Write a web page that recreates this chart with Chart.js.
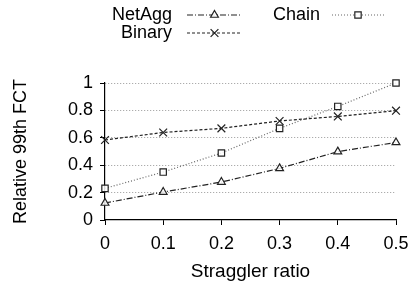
<!DOCTYPE html>
<html><head><meta charset="utf-8">
<script src="https://cdn.jsdelivr.net/npm/chart.js@4/dist/chart.umd.min.js"></script>
<style>html,body{margin:0;padding:0;background:#fff}#wrap{width:420px;height:286px}</style>
</head><body><div id="wrap"><canvas id="c" width="420" height="286"></canvas></div>
<script>
const xValues = [0, 0.1, 0.2, 0.3, 0.4, 0.5];
const netAgg = [0.124, 0.204, 0.277, 0.377, 0.499, 0.566];
const binary = [0.584, 0.639, 0.669, 0.723, 0.756, 0.798];
const chain  = [0.231, 0.350, 0.489, 0.669, 0.829, 1.0];
const yTicks = [0, 0.2, 0.4, 0.6, 0.8, 1];
const xTickLabels = ['0', '0.1', '0.2', '0.3', '0.4', '0.5'];
const seriesNames = ['NetAgg', 'Binary', 'Chain'];

const FONT = '"Liberation Sans", Arial, sans-serif';
const FS = 18;
const pts = arr => arr.map((v, i) => ({x: xValues[i], y: v}));

const styles = [
  {color: '#222', dash: [6, 2, 1, 2], point: 'triangle', pr: 4.5},
  {color: '#222', dash: [3, 2], point: 'crossRot', pr: 5.5},
  {color: '#666', dash: [1, 2], point: 'rect', pr: 4.5}
];
const seriesData = [netAgg, binary, chain];

const datasets = seriesData.map((d, i) => ({
  label: seriesNames[i],
  data: pts(d),
  borderColor: styles[i].color,
  borderWidth: 1.2,
  borderDash: styles[i].dash,
  pointStyle: styles[i].point,
  pointRadius: styles[i].pr,
  pointBorderColor: '#222',
  pointBackgroundColor: 'rgba(255,255,255,0.85)',
  pointBorderWidth: 1.2,
  clip: false,
  tension: 0
}));

const legendPlugin = {
  id: 'customLegend',
  afterDraw(chart) {
    const ctx = chart.ctx;
    ctx.save();
    ctx.font = FS + 'px ' + FONT;
    ctx.textAlign = 'right';
    ctx.textBaseline = 'middle';
    const items = [
      {i: 0, tx: 172, x0: 187, x1: 242, y: 15},
      {i: 1, tx: 172, x0: 187, x1: 242, y: 33},
      {i: 2, tx: 320, x0: 332, x1: 384, y: 15}
    ];
    items.forEach(it => {
      const s = styles[it.i];
      ctx.fillStyle = '#000';
      ctx.fillText(seriesNames[it.i], it.tx, it.y);
      ctx.strokeStyle = s.color;
      ctx.lineWidth = 1.2;
      ctx.setLineDash(s.dash);
      ctx.beginPath();
      ctx.moveTo(it.x0, it.y); ctx.lineTo(it.x1, it.y); ctx.stroke();
      ctx.setLineDash([]);
      const mx = (it.x0 + it.x1) / 2;
      ctx.fillStyle = 'rgba(255,255,255,0.9)';
      ctx.strokeStyle = '#222';
      Chart.helpers.drawPoint(ctx, {pointStyle: s.point, radius: s.pr, borderWidth: 1.2}, mx, it.y);
    });
    ctx.restore();
  }
};

new Chart(document.getElementById('c'), {
  type: 'line',
  data: {datasets},
  options: {
    responsive: false,
    animation: false,
    devicePixelRatio: 1,
    layout: {padding: {top: 83, right: 24, left: 8, bottom: 3}},
    plugins: {legend: {display: false}, tooltip: {enabled: false}},
    scales: {
      x: {
        type: 'linear', min: 0, max: 0.5,
        afterBuildTicks: ax => { ax.ticks = xValues.map(v => ({value: v})); },
        afterFit: ax => { ax.height = 63; },
        ticks: {
          callback: (v, i) => xTickLabels[i],
          font: {family: FONT, size: FS}, color: '#000', padding: 8, maxRotation: 0
        },
        grid: {display: true, drawOnChartArea: false, drawTicks: true, tickLength: 5, color: '#000', tickColor: '#000'},
        border: {display: true, color: '#000', width: 1.2},
        title: {display: true, text: 'Straggler ratio', font: {family: FONT, size: 19}, color: '#000', padding: {top: 0, bottom: 0}}
      },
      y: {
        min: 0, max: 1,
        afterBuildTicks: ax => { ax.ticks = yTicks.map(v => ({value: v})); },
        afterFit: ax => { ax.width = 97; },
        ticks: {
          callback: v => String(v),
          font: {family: FONT, size: FS}, color: '#000', padding: 7
        },
        grid: {
          display: true, drawTicks: true, tickLength: 5, tickColor: '#000',
          color: ctx => ctx.tick && ctx.tick.value === 0 ? 'rgba(0,0,0,0)' : '#999'
        },
        border: {display: true, color: '#000', width: 1.2, dash: [1, 2]},
        title: {display: true, text: 'Relative 99th FCT', font: {family: FONT, size: FS}, color: '#000', padding: {top: 2, bottom: 4}}
      }
    }
  },
  plugins: [legendPlugin]
});
</script></body></html>
